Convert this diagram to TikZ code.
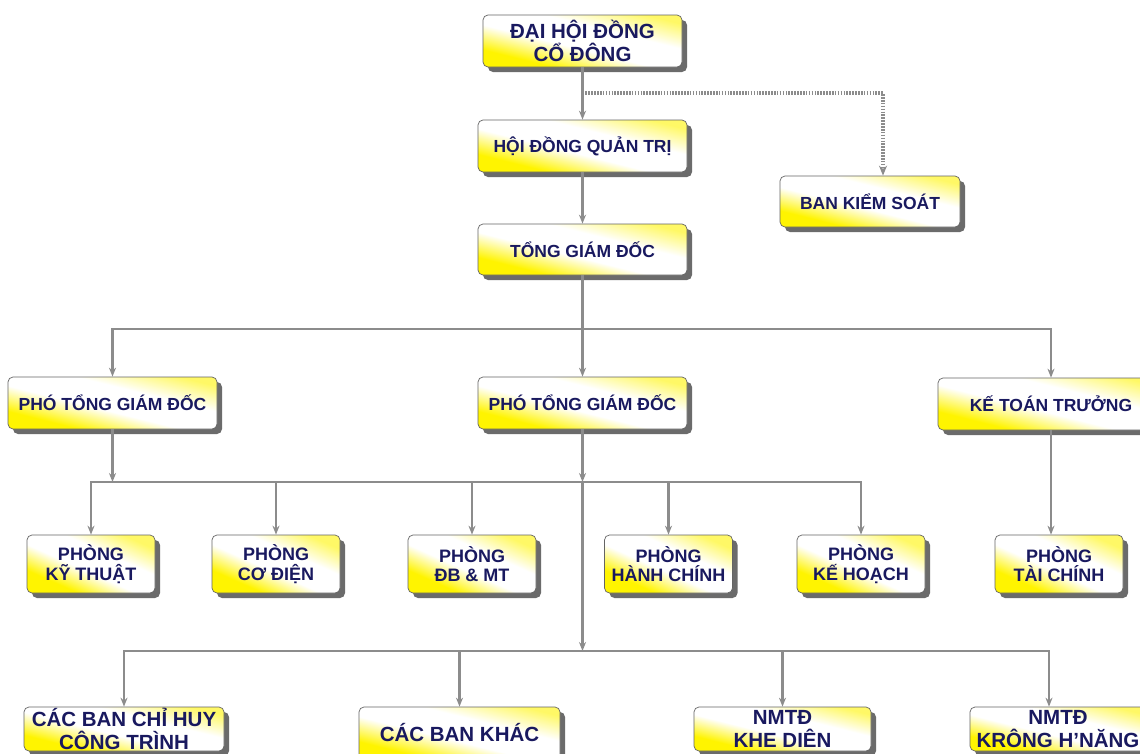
\documentclass[tikz,border=0pt]{standalone}
\usepackage{fontspec}
\setmainfont{Liberation Sans}
\usepackage{tikz}
\usetikzlibrary{shadows,arrows.meta}

\definecolor{navy}{RGB}{25,25,95}
\definecolor{boxyel}{RGB}{255,244,0}
\definecolor{linegray}{RGB}{140,140,140}
\definecolor{edgegray}{RGB}{100,100,100}
\pgfdeclarehorizontalshading{yelshade}{100bp}{color(0bp)=(boxyel); color(30bp)=(boxyel); color(45bp)=(white); color(60bp)=(white); color(75bp)=(boxyel!60); color(100bp)=(boxyel!60)}

\tikzset{
  box/.style={draw=edgegray, line width=.7pt, rounded corners=5pt, shading=yelshade, shading angle=76,
    drop shadow={shadow xshift=5pt, shadow yshift=-5pt, fill=black!58, opacity=1},
    text=navy, font=\bfseries, align=center, inner sep=2pt},
  lvlA/.style={box, minimum height=52pt, font=\bfseries\fontsize{17.5}{20}\selectfont},
  lvlB/.style={box, shading angle=66, minimum width=128pt, minimum height=58pt, font=\bfseries\fontsize{18}{19.5}\selectfont},
  lvlC/.style={box, minimum height=52pt, inner ysep=1pt, font=\bfseries\fontsize{20.5}{23}\selectfont},
  link/.style={draw=linegray, line width=2.4pt},
  arr/.style={link, -{Stealth[length=9pt,width=7pt]}},
  dotarr/.style={draw=linegray, line width=3.2pt, dash pattern=on 1.6pt off 1.3pt, -{Stealth[length=10pt,width=8pt]}}
}

\begin{document}
\begin{tikzpicture}[x=1pt, y=-1pt]
  \useasboundingbox[fill=white] (0,0) rectangle (1140,753);

  \node[box, minimum width=199pt, minimum height=52pt, font=\bfseries\fontsize{20.5}{20.5}\selectfont] (dhd) at (582.5,41) {ĐẠI HỘI ĐỒNG\\CỔ ĐÔNG};
  \node[lvlA, minimum width=209pt] (hdqt) at (582.5,146) {HỘI ĐỒNG QUẢN TRỊ};
  \node[lvlA, minimum width=180pt, minimum height=51pt] (bks) at (870,201.5) {BAN KIỂM SOÁT};
  \node[lvlA, minimum width=209pt, minimum height=51pt] (tgd) at (582.5,249.5) {TỔNG GIÁM ĐỐC};

  \node[lvlA, minimum width=209pt] (ptgdA) at (112.5,403) {PHÓ TỔNG GIÁM ĐỐC};
  \node[lvlA, minimum width=209pt] (ptgdB) at (582.5,403) {PHÓ TỔNG GIÁM ĐỐC};
  \node[lvlA, minimum width=226pt] (ktt) at (1051,404) {KẾ TOÁN TRƯỞNG};

  \node[lvlB] (pKT) at (91,564) {PHÒNG\\KỸ THUẬT};
  \node[lvlB] (pCD) at (276,564) {PHÒNG\\CƠ ĐIỆN};
  \node[lvlB] (pDB) at (472,564) {PHÒNG\\ĐB \& MT};
  \node[lvlB] (pHC) at (668.5,564) {PHÒNG\\HÀNH CHÍNH};
  \node[lvlB] (pKH) at (861,564) {PHÒNG\\KẾ HOẠCH};
  \node[lvlB] (pTC) at (1059,564) {PHÒNG\\TÀI CHÍNH};

  \node[lvlC, minimum width=200pt, minimum height=44pt] (chq) at (124,729) {CÁC BAN CHỈ HUY\\CÔNG TRÌNH};
  \node[lvlC, minimum width=201pt] (cbk) at (459.5,733) {CÁC BAN KHÁC};
  \node[lvlC, minimum width=177pt, minimum height=44pt] (kd) at (782.5,729) {NMTĐ\\KHE DIÊN};
  \node[lvlC, minimum width=176pt, minimum height=44pt] (kr) at (1058,729) {NMTĐ\\KRÔNG H\char"27 NĂNG};

  \coordinate (dot) at (582.5,93);
  \coordinate (b1) at (582.5,329);
  \coordinate (b2) at (582.5,482);
  \coordinate (b3) at (582.5,651);

  \draw[arr] (dhd) -- (hdqt);
  \draw[arr] (hdqt) -- (tgd);
  \draw[dotarr] (dot) -| ([xshift=13pt]bks.north);

  \draw[link] (tgd.south) -- (b1);
  \draw[arr] (b1) -| (ptgdA.north);
  \draw[arr] (b1) -- (ptgdB.north);
  \draw[arr] (b1) -| (ktt.north);

  \draw[arr] (ptgdA.south) -- (ptgdA.south |- b2);
  \draw[arr] (ptgdB.south) -- (b2);
  \foreach \n in {pKT,pCD,pDB,pHC,pKH}
    \draw[arr] (b2) -| (\n.north);
  \draw[arr] (ktt.south) -- (ktt.south |- pTC.north);

  \draw[arr] (b2) -- (b3);
  \foreach \n in {chq,cbk,kd}
    \draw[arr] (b3) -| (\n.north);
  \draw[arr] (b3) -| ([xshift=-9pt]kr.north);
\end{tikzpicture}
\end{document}
